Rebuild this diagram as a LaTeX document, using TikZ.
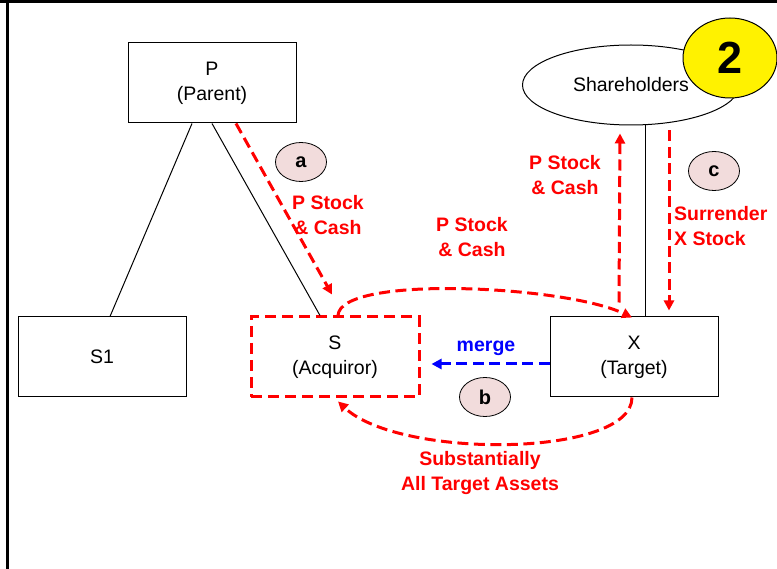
\documentclass[tikz,border=0pt]{standalone}
\usepackage{fontspec}
\setmainfont{Liberation Sans}
\usetikzlibrary{arrows.meta,shapes.geometric}
\definecolor{tagpink}{RGB}{242,220,220}
\definecolor{flowred}{RGB}{255,0,0}
\definecolor{flowblue}{RGB}{0,0,255}

\begin{document}
\begin{tikzpicture}[x=1pt, y=-1pt]
		\tikzset{box/.style={draw=black, line width=1pt, minimum width=168pt, minimum height=80pt, align=center, inner sep=2pt, font=\fontsize{19.5}{25}\selectfont}};
		\tikzset{tag/.style={ellipse, draw=black, line width=0.8pt, fill=tagpink, minimum width=51pt, minimum height=39pt, inner sep=0pt, font=\fontsize{20}{24}\selectfont\bfseries}};
		\tikzset{flow/.style={flowred, line width=3pt, dash pattern=on 11pt off 5.5pt, -{Triangle[length=10pt,width=10pt]}}};
		\tikzset{lbl/.style={flowred, align=center, inner sep=0pt, font=\fontsize{19.5}{25}\selectfont\bfseries}};

		\useasboundingbox (0,0) rectangle (777,569);

		% frame
		\draw[line width=3pt] (0,2) -- (777,2);
		\draw[line width=3pt] (7,0) -- (7,569);

		% companies
		\node[box] (p) at (212, 83) {P\\(Parent)};
		\node[box] (s1) at (102, 357) {S1};
		\node[box, draw=flowred, line width=3pt, dash pattern=on 11pt off 6pt] (s) at (335, 357) {S\\(Acquiror)};
		\node[box] (x) at (634, 357) {X\\(Target)};
		\node[ellipse, draw=black, line width=1pt, minimum width=217pt, minimum height=80pt, inner sep=0pt, font=\fontsize{19.5}{25}\selectfont] (sh) at (631, 85) {Shareholders};
		\node[ellipse, draw=black, line width=1pt, fill=yellow, minimum width=94pt, minimum height=80pt, inner sep=0pt, font=\fontsize{45}{48}\selectfont\bfseries] (two) at (730, 58) {2};

		% ownership lines
		\draw[line width=1pt] ([xshift=-20pt]p.south) -- ([xshift=8pt]s1.north);
		\draw[line width=1pt] (p.south) -- ([xshift=-15pt]s.north);
		\draw[line width=1pt] ([xshift=14pt]sh.south) -- ([xshift=11pt]x.north);

		% steps
		\node[tag] (a) at (301, 162) {a};
		\node[tag] (b) at (485, 397) {b};
		\node[tag] (c) at (714, 171) {c};

		\draw[flow] ([xshift=24pt]p.south) -- ([xshift=-3pt,yshift=21pt]s.north);
		\draw[flow] ([xshift=3pt]s.north) .. controls +(2,-41) and +(-67,-32) .. ([xshift=-2pt,yshift=-1pt]x.north);
		\draw[flow] ([xshift=-15pt,yshift=14pt]x.north) -- ([xshift=-11pt,yshift=-8pt]sh.south);
		\draw[flow] ([xshift=38pt,yshift=-5pt]sh.south) -- ([xshift=35pt,yshift=6pt]x.north);
		\draw[flow] ([xshift=-2pt]x.south) .. controls +(0,60) and +(62,58) .. ([xshift=3pt,yshift=-3pt]s.south);
		\draw[flow, flowblue] ([yshift=-7pt]x.west) -- ([xshift=11pt,yshift=-7pt]s.east);

		% flow labels
		\node[lbl] (l1) at (328, 215) {P Stock\\\& Cash};
		\node[lbl] (l2) at (472, 237) {P Stock\\\& Cash};
		\node[lbl] (l3) at (565, 175) {P Stock\\\& Cash};
		\node[lbl, align=left, anchor=west] (l4) at (674, 226) {Surrender\\X Stock};
		\node[lbl] (l5) at (480, 473) {Substantially\\All Target Assets};
		\node[lbl, flowblue] (l6) at (486, 348) {merge};

\end{tikzpicture}
\end{document}
